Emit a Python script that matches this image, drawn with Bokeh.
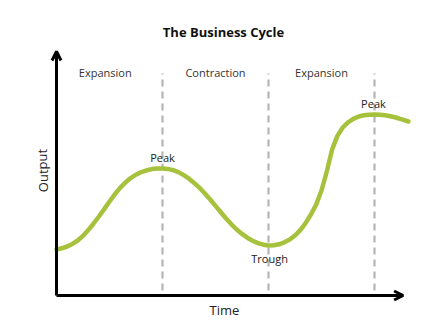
from bokeh.plotting import figure
from bokeh.models import Range1d, Arrow, OpenHead, Label
from bokeh.embed import file_html
from bokeh.resources import INLINE

# ---- data (time in phase units, output in arbitrary units)
time = [0.00, 0.05, 0.10, 0.15, 0.20, 0.25, 0.30, 0.35, 0.40, 0.45, 0.50,
        0.55, 0.60, 0.65, 0.70, 0.75, 0.80, 0.85, 0.90, 0.95, 1.00,
        1.05, 1.10, 1.15, 1.20, 1.25, 1.30, 1.35, 1.40, 1.45, 1.50,
        1.55, 1.60, 1.65, 1.70, 1.75, 1.80, 1.85, 1.90, 1.95, 2.00,
        2.05, 2.10, 2.15, 2.20, 2.25, 2.30, 2.35, 2.40, 2.45, 2.50,
        2.55, 2.60, 2.65, 2.70, 2.75, 2.80, 2.85, 2.90, 2.95, 3.00,
        3.05, 3.10, 3.15, 3.20, 3.25, 3.32]
output = [2.30, 2.36, 2.45, 2.58, 2.75, 2.98, 3.27, 3.60, 3.95, 4.32, 4.70,
          5.06, 5.38, 5.65, 5.87, 6.04, 6.17, 6.26, 6.32, 6.35, 6.35,
          6.33, 6.27, 6.17, 6.02, 5.84, 5.62, 5.38, 5.10, 4.80, 4.48,
          4.16, 3.85, 3.56, 3.30, 3.08, 2.89, 2.74, 2.62, 2.54, 2.50,
          2.51, 2.56, 2.66, 2.80, 3.00, 3.27, 3.62, 4.05, 4.55, 5.25,
          6.20, 7.30, 7.98, 8.40, 8.66, 8.83, 8.95, 9.01, 9.04, 9.05,
          9.04, 9.01, 8.96, 8.90, 8.82, 8.70]

phase_bounds = [1.0, 2.0, 3.0]
phase_names = ["Expansion", "Contraction", "Expansion"]
phase_centers = [0.46, 1.50, 2.50]

turn_names = ["Peak", "Trough", "Peak"]
turn_time = [1.00, 2.01, 2.99]
turn_output = [6.35, 2.50, 9.05]

FONT = "Open Sans"
GREEN = "#a6c13c"

p = figure(width=429, height=321, output_backend="svg", toolbar_location=None,
           x_range=Range1d(-56 / 106, 373 / 106), y_range=Range1d(-26 / 20, 295 / 20),
           min_border=0, outline_line_color=None)
p.xaxis.visible = False
p.yaxis.visible = False
p.xgrid.visible = False
p.ygrid.visible = False
p.background_fill_color = "white"
p.border_fill_color = "white"

# dashed phase boundaries
for b in phase_bounds:
    p.segment(x0=b, y0=0.25, x1=b, y1=11.1, line_color="#b5b5b5",
              line_width=2.2, line_dash="7 5")

# curve
p.line(time, output, line_color=GREEN, line_width=4.5, line_cap="round", line_join="round")

# axes with arrows
p.add_layout(Arrow(end=OpenHead(size=9, line_width=3, line_color="black"),
                   x_start=0, y_start=0, x_end=0, y_end=12.2,
                   line_width=3, line_color="black"))
p.add_layout(Arrow(end=OpenHead(size=9, line_width=3, line_color="black"),
                   x_start=0, y_start=0, x_end=3.27, y_end=0,
                   line_width=3, line_color="black"))

# title
p.add_layout(Label(x=(223 - 56) / 106, y=(295 - 31) / 20, text="The Business Cycle",
                   text_font=FONT, text_font_size="13px", text_font_style="bold",
                   text_color="#111111", text_align="center", text_baseline="middle"))

# phase names
for c, n in zip(phase_centers, phase_names):
    p.add_layout(Label(x=c, y=(295 - 72) / 20, text=n, text_font=FONT,
                       text_font_size="11px", text_color="#333333",
                       text_align="center", text_baseline="middle"))

# turning point labels
offsets = [0.55, -0.65, 0.55]
for t, o, n, d in zip(turn_time, turn_output, turn_names, offsets):
    p.add_layout(Label(x=t, y=o + d, text=n, text_font=FONT,
                       text_font_size="11px", text_color="#222222",
                       text_align="center", text_baseline="middle"))

# axis titles
p.add_layout(Label(x=(42 - 56) / 106, y=(295 - 170) / 20, text="Output", angle=1.5708,
                   text_font=FONT, text_font_size="13px", text_color="#222222",
                   text_align="center", text_baseline="middle"))
p.add_layout(Label(x=(224 - 56) / 106, y=(295 - 309) / 20, text="Time",
                   text_font=FONT, text_font_size="13px", text_color="#222222",
                   text_align="center", text_baseline="middle"))

open("out.html", "w").write(file_html(p, INLINE))
